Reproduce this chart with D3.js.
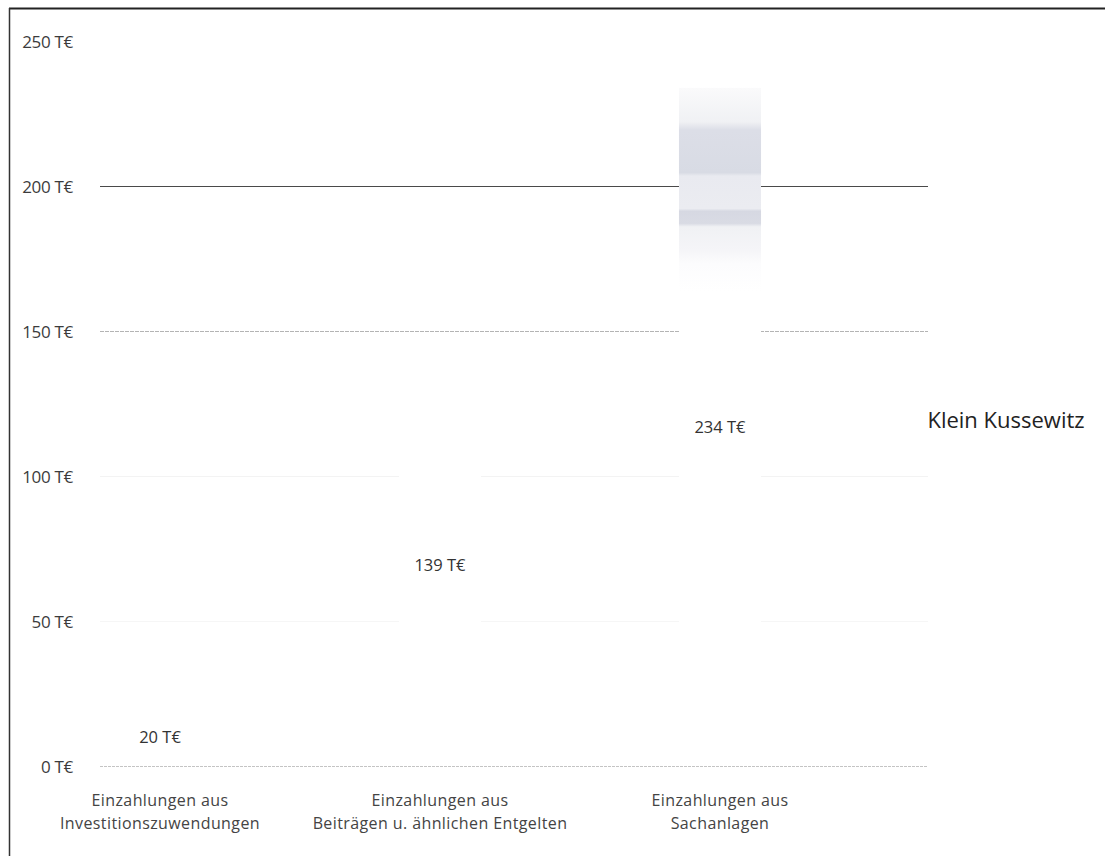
<!DOCTYPE html>
<html>
<head>
<meta charset="utf-8">
<script src="https://cdn.jsdelivr.net/npm/d3@7"></script>
<style>
  html, body { margin: 0; padding: 0; background: #fff; }
  svg { display: block; }
  text { font-family: "Open Sans", "Noto Sans", sans-serif; }
</style>
</head>
<body>
<div id="chart"></div>
<script>
const categories = [
  ["Einzahlungen aus", "Investitionszuwendungen"],
  ["Einzahlungen aus", "Beiträgen u. ähnlichen Entgelten"],
  ["Einzahlungen aus", "Sachanlagen"]
];
const values = [20, 139, 234];
const yTicks = [0, 50, 100, 150, 200, 250];
const seriesName = "Klein Kussewitz";
const unit = " T€";

const W = 1105, H = 856;
const svg = d3.select("#chart").append("svg").attr("width", W).attr("height", H);

// frame (scanned border on top and left)
svg.append("line").attr("x1", 9).attr("x2", W).attr("y1", 8.5).attr("y2", 8.5)
  .attr("stroke", "#222").attr("stroke-width", 2);
svg.append("line").attr("x1", 9.5).attr("x2", 9.5).attr("y1", 8).attr("y2", H)
  .attr("stroke", "#333").attr("stroke-width", 1.5);

const y = d3.scaleLinear().domain([0, 250]).range([766.5, 41.5]);
const x = d3.scaleBand().domain(d3.range(categories.length))
  .range([20, 860]).paddingInner(0.707).paddingOuter(0.3535);

const gridX1 = 100, gridX2 = 928;
const gridStyle = v => ({
  0:   ["#c4c4c4", "3,1"],
  50:  ["#f6f6f6", null],
  100: ["#f3f3f3", null],
  150: ["#b4b4b4", "4,1"],
  200: ["#4a4a4a", null],
  250: ["none", null]
})[v];

// gridlines
svg.append("g").selectAll("line").data(yTicks).join("line")
  .attr("x1", gridX1).attr("x2", gridX2)
  .attr("y1", d => y(d)).attr("y2", d => y(d))
  .attr("stroke", d => gridStyle(d)[0])
  .attr("stroke-dasharray", d => gridStyle(d)[1])
  .attr("stroke-width", 1);

// y axis labels
const yAxis = d3.axisLeft(y).tickValues(yTicks).tickSize(0).tickPadding(0)
  .tickFormat(d => d + unit);
const gy = svg.append("g").attr("transform", "translate(73,0)").call(yAxis);
gy.select(".domain").remove();
gy.selectAll("text").attr("font-size", 17).attr("fill", "#3c3c3c")
  .attr("font-family", "'Open Sans', sans-serif").attr("dy", "0.35em").attr("letter-spacing", "-0.3");

// gradient for faded bar top (scan artifact)
const defs = svg.append("defs");
const grad = defs.append("linearGradient").attr("id", "fade")
  .attr("x1", 0).attr("x2", 0).attr("y1", 0).attr("y2", 1);
[[0, "#fafafb"], [0.05, "#f0f1f4"], [0.062, "#dcdee7"], [0.125, "#d8dbe4"], [0.13, "#e9eaf0"],
 [0.178, "#ebecf1"], [0.182, "#d6d8e2"], [0.2, "#d9dbe4"], [0.205, "#f0f1f4"], [0.24, "#f5f5f8"],
 [0.26, "#fcfcfd"], [0.3, "#ffffff"], [1, "#ffffff"]]
  .forEach(([o, c]) => grad.append("stop").attr("offset", o).attr("stop-color", c));

// bars
svg.append("g").selectAll("rect").data(values).join("rect")
  .attr("x", (d, i) => x(i))
  .attr("width", x.bandwidth())
  .attr("y", d => y(d))
  .attr("height", d => y(0) - y(d) - 1)
  .attr("fill", (d, i) => i === values.length - 1 ? "url(#fade)" : "#fff");

// data labels in the middle of each bar
svg.append("g").selectAll("text").data(values).join("text")
  .attr("x", (d, i) => x(i) + x.bandwidth() / 2)
  .attr("y", d => y(d / 2))
  .attr("dy", "0.35em")
  .attr("text-anchor", "middle")
  .attr("font-size", 16.5)
  .attr("fill", "#333")
  .text(d => d + unit);

// category labels
const cat = svg.append("g").selectAll("text").data(categories).join("text")
  .attr("x", (d, i) => x(i) + x.bandwidth() / 2)
  .attr("y", 806)
  .attr("text-anchor", "middle")
  .attr("font-size", 16)
  .attr("letter-spacing", "0.4")
  .attr("fill", "#444");
cat.selectAll("tspan").data(d => d).join("tspan")
  .attr("x", function() { return d3.select(this.parentNode).attr("x"); })
  .attr("dy", (d, i) => i === 0 ? 0 : 23)
  .text(d => d);

// legend / series name
svg.append("text").attr("x", 1006).attr("y", 420).attr("dy", "0.35em")
  .attr("text-anchor", "middle").attr("font-size", 22).attr("fill", "#222")
  .text(seriesName);
</script>
</body>
</html>
